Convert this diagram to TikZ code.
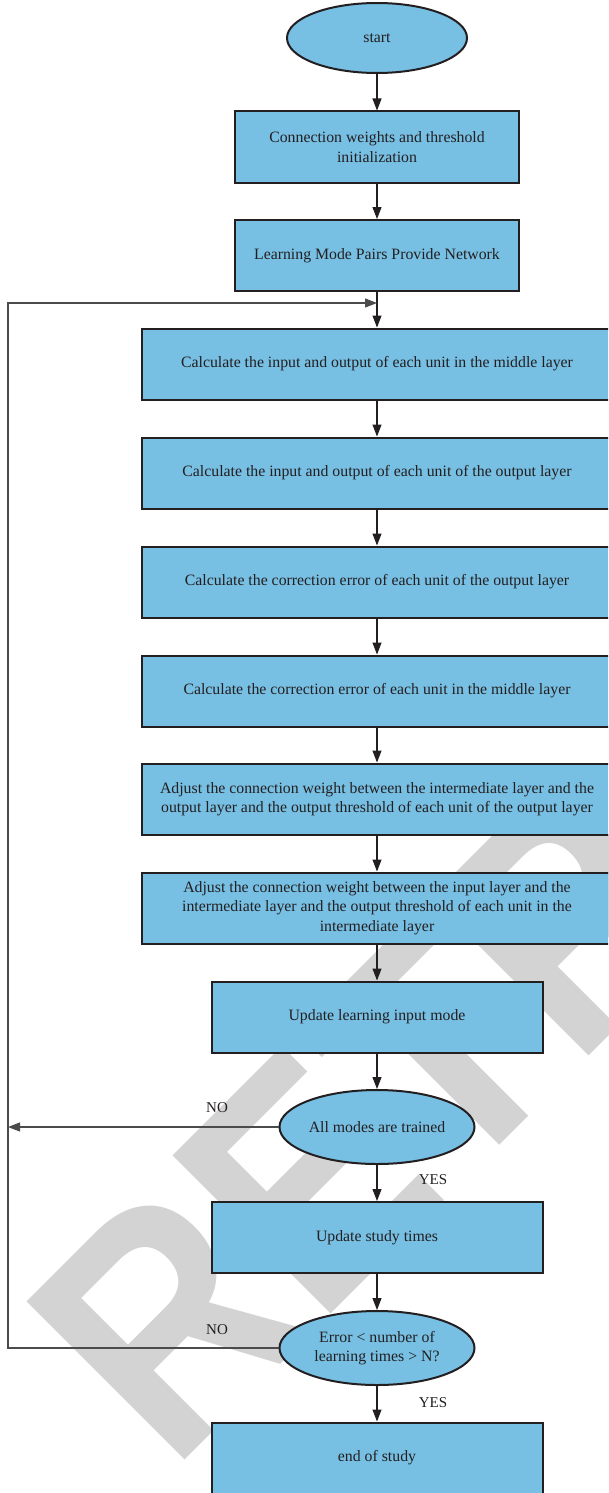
\documentclass[tikz,border=0pt]{standalone}
\usepackage{fontspec}
\setmainfont{Liberation Serif}
\newfontfamily\markfont{Liberation Sans}[FakeStretch=0.88]
\usetikzlibrary{arrows.meta,shapes.geometric}
\definecolor{boxfill}{RGB}{119,191,227}
\definecolor{ink}{RGB}{35,31,32}
\definecolor{markgray}{RGB}{211,211,211}
\definecolor{railgray}{RGB}{75,75,75}

\begin{document}
\begin{tikzpicture}[x=1pt,y=-1pt,
  every node/.style={font=\fontsize{15.8}{19.5}\selectfont, text=ink},
  procbox/.style={rectangle, draw=ink, line width=2pt, fill=boxfill,
    minimum height=71pt, align=center, inner sep=0pt},
  widebox/.style={procbox, minimum width=471pt},
  midbox/.style={procbox, minimum width=284pt},
  narrowbox/.style={procbox, minimum width=331pt},
  terminal/.style={ellipse, draw=ink, line width=2pt, fill=boxfill,
    minimum width=180pt, minimum height=70pt, inner sep=0pt, align=center},
  decision/.style={terminal, minimum width=195pt, minimum height=74pt},
  tip/.style={-{Triangle[length=12pt,width=9pt]}},
  flow/.style={draw=ink, line width=1.1pt, tip},
  rail/.style={draw=railgray, line width=1.1pt},
  tag/.style={font=\fontsize{15}{18}\selectfont}
]
\path[use as bounding box, clip] (0,0) rectangle (608,1493);

% diagonal stamp behind the chart
\node[anchor=base west, rotate=45, inner sep=0pt, text=markgray,
  font=\markfont\bfseries\fontsize{325}{325}\selectfont] (stamp) at (171,1474) {RETRACTED};

% chart nodes
\node[terminal] (start) at (377,38) {start};
\node[midbox] (init) at (377,147) {Connection weights and threshold\\initialization};
\node[midbox] (feed) at (377,255.5) {Learning Mode Pairs Provide Network};
\coordinate (join) at (377,303);
\node[widebox] (hid) at (377,364) {Calculate the input and output of each unit in the middle layer};
\node[widebox] (outp) at (377,473) {Calculate the input and output of each unit of the output layer};
\node[widebox] (errout) at (377,582) {Calculate the correction error of each unit of the output layer};
\node[widebox] (errhid) at (377,691) {Calculate the correction error of each unit in the middle layer};
\node[widebox] (adjout) at (377,799) {Adjust the connection weight between the intermediate layer and the\\output layer and the output threshold of each unit of the output layer};
\node[widebox] (adjin) at (377,908) {Adjust the connection weight between the input layer and the\\intermediate layer and the output threshold of each unit in the\\intermediate layer};
\node[narrowbox] (upd) at (377,1017) {Update learning input mode};
\node[decision] (alltr) at (377,1127) {All modes are trained};
\node[narrowbox] (times) at (377,1237.5) {Update study times};
\node[decision] (errq) at (377,1348) {Error < number of\\learning times > N?};
\node[narrowbox] (finish) at (377,1458) {end of study};

% branch labels
\node[tag] (no1) at (217,1108) {NO};
\node[tag] (yes1) at (433,1180) {YES};
\node[tag] (no2) at (217,1330) {NO};
\node[tag] (yes2) at (433,1403) {YES};

% main flow
\draw[flow] (start) -- (init);
\draw[flow] (init) -- (feed);
\draw[flow] (feed) -- (hid);
\draw[flow] (hid) -- (outp);
\draw[flow] (outp) -- (errout);
\draw[flow] (errout) -- (errhid);
\draw[flow] (errhid) -- (adjout);
\draw[flow] (adjout) -- (adjin);
\draw[flow] (adjin) -- (upd);
\draw[flow] (upd) -- (alltr);
\draw[flow] (alltr) -- (times);
\draw[flow] (times) -- (errq);
\draw[flow] (errq) -- (finish);

% return paths on the left rail
\coordinate (railA) at (8,1127);
\coordinate (railB) at (8,1348);
\draw[rail, tip] (alltr) -- (railA);
\draw[rail, tip] (errq.west) -- (railB) |- (join);
\end{tikzpicture}
\end{document}
